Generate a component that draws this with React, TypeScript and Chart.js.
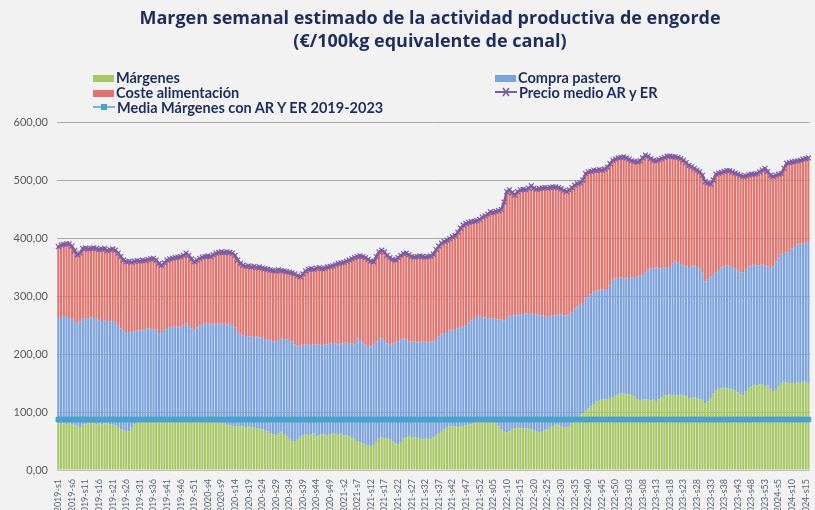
import React, { useEffect, useRef } from "react";
import { Chart, registerables } from "chart.js";

Chart.register(...registerables);

// ---- categories (weekly labels) ----
const YEARS = [2019, 2020, 2021, 2022, 2023, 2024];
const WEEKS_IN_YEAR = [52, 52, 52, 52, 53, 16];
const ZERO_PADDED_YEARS = [2022, 2023];
const weekLabels: string[] = [];
YEARS.forEach((y, k) => {
  for (let w = 1; w <= WEEKS_IN_YEAR[k]; w++) {
    const s = ZERO_PADDED_YEARS.includes(y) && w < 10 ? "0" + w : String(w);
    weekLabels.push(`${y}-s${s}`);
  }
});

// ---- series values (€/100kg) ----
const precioMedio = [
  // 2019
  385, 388, 389, 390, 390, 386, 378, 371, 374, 382, 383, 381, 382, 383, 382, 380, 381, 382, 378, 380, 381, 379,
  374, 368, 362, 359, 360, 358, 360, 361, 360, 362, 361, 363, 364, 365, 362, 356, 353, 357, 362,
  364, 365, 366, 367, 368, 370, 374, 370, 364, 359, 362,
  // 2020
  365, 367, 368, 369, 368, 371, 374, 375, 376, 375, 376, 375, 374, 370, 362, 356,
  353, 351, 352, 350, 351, 349, 350, 348, 347, 346, 345, 344, 343, 345, 344, 343, 342, 341, 340, 338, 335,
  333, 338, 343, 346, 347, 346, 348, 349, 347, 348, 350, 351, 352, 354, 356,
  // 2021
  357, 358, 360, 362, 364, 366, 368, 369, 368, 366, 363, 360, 359, 368, 376, 379, 376, 370, 366, 363, 362,
  366, 370, 373, 374, 371, 368, 367, 368, 369, 368, 367, 368, 369, 372, 380, 386, 391,
  394, 396, 399, 402, 404, 410, 417, 422, 425, 427, 428, 429, 430, 432,
  // 2022
  436, 438, 441, 445, 444, 446, 447, 449, 462, 480, 483, 478, 474, 480, 483, 484, 483, 486, 490, 486, 484,
  485, 486, 487, 486, 487, 488, 488, 487, 485, 482, 480, 483, 487, 491, 494, 495, 500,
  511, 514, 515, 517, 516, 518, 517, 519, 522, 528, 534, 536, 538, 539,
  // 2023
  540, 538, 536, 533, 532, 531, 533, 538, 543, 541, 537, 534, 533, 535, 537, 539,
  541, 541, 540, 540, 539, 537, 534, 530, 525, 523, 520, 517, 514, 508, 497, 495, 493, 500,
  510, 512, 513, 515, 516, 516, 514, 512, 510, 508, 506, 507, 509, 510, 510, 511, 514, 517, 520,
  // 2024
  515, 508, 506, 508, 510, 511, 520, 529, 530, 531, 532, 533, 534, 536, 537, 538,
];

const margenes = [
  // 2019
  80, 81, 80, 79, 80, 79, 77, 75, 74, 78, 79, 80, 81, 80, 79, 80, 79, 80, 80, 79, 78, 77,
  73, 70, 68, 66, 67, 74, 79, 82, 83, 84, 84, 85, 84,
  84, 83, 82, 83, 84, 85, 85, 86, 86, 85, 86, 86, 85, 84, 83, 84, 85,
  // 2020
  85, 84, 85, 84, 83, 82, 82, 81, 81, 80, 78, 77, 76, 75, 76, 75, 75, 74, 75, 74,
  73, 72, 71, 70, 69, 67, 64, 61, 60, 63, 66, 62, 58, 54, 49, 50, 52,
  56, 60, 62, 59, 61, 63, 58, 60, 62, 61, 59, 62, 63, 61, 62,
  // 2021
  63, 60, 60, 58, 57, 55, 50, 48, 46, 45, 42, 40, 43, 50, 55, 56, 54, 55, 53, 49, 46, 45, 48,
  55, 57, 58, 57, 56, 57, 54, 53, 55, 54, 53, 56, 60, 63, 66, 70,
  73, 75, 76, 75, 74, 75, 76, 77, 78, 79, 80, 82, 83,
  // 2022
  84, 84, 83, 82, 83, 80, 75, 70, 66, 65, 67, 70, 72, 73, 72, 71, 72, 71, 70, 68,
  66, 65, 66, 68, 70, 73, 76, 78, 77, 76, 74, 73, 75, 80, 85, 90, 95, 98,
  102, 106, 110, 114, 118, 120, 121, 122, 121, 123, 126, 128, 130, 132,
  // 2023
  132, 131, 130, 129, 127, 122, 120, 121, 122, 121, 120, 121, 119, 122,
  126, 128, 129, 130, 129, 128, 129, 130, 129, 127, 124, 123, 125, 124, 122, 120, 115, 118, 124, 132,
  138, 140, 141, 142, 141, 140, 139, 137, 134, 130, 129, 135, 142, 145, 147, 146, 148, 147, 145,
  // 2024
  146, 140, 135, 138, 144, 150, 152, 151, 150, 149, 150, 151, 150, 152, 151, 150,
];

const compraPastero = [
  // 2019
  182, 183, 185, 185, 182, 181, 180, 178, 182, 183, 183, 182, 182, 182, 182, 178, 178, 178, 177, 177,
  179, 178, 177, 174, 172, 172, 171, 164, 160, 158, 158, 158, 159, 159, 161, 159, 159, 154, 155, 158,
  160, 161, 160, 161, 161, 161, 163, 168, 166, 161, 157, 161,
  // 2020
  165, 167, 167, 168, 168, 170, 171, 171, 170, 172, 173, 175, 174, 171, 162, 159, 157, 157, 155, 156,
  156, 158, 158, 158, 157, 158, 159, 161, 161, 161, 161, 164, 167, 170, 173, 167, 161, 159, 156, 155,
  157, 154, 153, 159, 156, 153, 155, 158, 156, 156, 157, 155,
  // 2021
  155, 159, 160, 161, 161, 162, 177, 176, 174, 171, 172, 173, 173, 172, 171, 171, 170, 163, 163, 169,
  174, 177, 177, 172, 168, 164, 164, 165, 163, 167, 169, 166, 166, 168, 166, 166, 167, 168, 166, 165,
  165, 166, 168, 170, 171, 172, 173, 176, 179, 182, 182, 182,
  // 2022
  180, 179, 179, 179, 178, 180, 184, 189, 192, 197, 198, 196, 195, 195, 197, 198, 198, 198, 200, 201,
  202, 202, 200, 197, 194, 192, 190, 189, 191, 192, 193, 193, 193, 192, 193, 192, 190, 190, 195, 194,
  193, 192, 191, 190, 190, 188, 191, 195, 202, 202, 201, 200,
  // 2023
  199, 199, 201, 203, 204, 211, 215, 217, 218, 225, 228, 226, 230, 226, 221, 221, 219, 220, 227, 231,
  229, 225, 223, 224, 226, 228, 227, 226, 226, 220, 210, 210, 209, 206, 202, 205, 208, 209, 211, 211,
  211, 211, 210, 210, 212, 211, 209, 208, 207, 206, 205, 207, 207,
  // 2024
  205, 210, 216, 222, 222, 222, 222, 224, 226, 233, 236, 238, 240, 239, 241, 243,
];

// Coste alimentación = precio - márgenes - compra pastero
const costeAlimentacion = precioMedio.map((p, i) => p - margenes[i] - compraPastero[i]);

const MEDIA_MARGENES_2019_2023 = 87;
const mediaMargenes = weekLabels.map(() => MEDIA_MARGENES_2019_2023);

const Y_TICKS = [0, 100, 200, 300, 400, 500, 600];

const TITLE_LINES = [
  "Margen semanal estimado de la actividad productiva de engorde",
  "(€/100kg equivalente de canal)",
];

const COLORS = {
  margen: "#a6c763",
  compra: "#7aa2de",
  coste: "#e0736d",
  precio: "#7c5ca6",
  media: "#4aa3cc",
  text: "#1f2d5c",
};

const FONT = "Lato, 'Open Sans', sans-serif";
const TITLE_FONT = "'Open Sans', Lato, sans-serif";

function LegendItem(props: { x: number; y: number; label: string; kind: string; color: string }) {
  const { x, y, label, kind, color } = props;
  let marker: React.ReactNode;
  if (kind === "box") {
    marker = <div style={{ width: 21, height: 7, background: color, marginTop: 3 }} />;
  } else if (kind === "cross") {
    marker = (
      <svg width={22} height={10}>
        <line x1={0} y1={5} x2={22} y2={5} stroke={color} strokeWidth={2} />
        <line x1={8} y1={1} x2={14} y2={9} stroke={color} strokeWidth={1.5} />
        <line x1={14} y1={1} x2={8} y2={9} stroke={color} strokeWidth={1.5} />
      </svg>
    );
  } else {
    marker = (
      <svg width={22} height={10}>
        <line x1={0} y1={5} x2={22} y2={5} stroke={color} strokeWidth={1.5} />
        <rect x={8} y={2} width={6} height={6} fill={color} />
      </svg>
    );
  }
  return (
    <div
      style={{
        position: "absolute",
        left: x,
        top: y - 9,
        height: 18,
        display: "flex",
        alignItems: "center",
        gap: 2,
        whiteSpace: "nowrap",
      }}
    >
      {marker}
      <span style={{ fontFamily: FONT, fontWeight: 700, fontSize: 14.5, color: COLORS.text }}>{label}</span>
    </div>
  );
}

export default function App() {
  const canvasRef = useRef<HTMLCanvasElement | null>(null);

  useEffect(() => {
    if (!canvasRef.current) return;
    const chart = new Chart(canvasRef.current, {
      type: "bar",
      data: {
        labels: weekLabels,
        datasets: [
          {
            type: "line",
            label: "Precio medio AR y ER",
            data: precioMedio,
            borderColor: COLORS.precio,
            backgroundColor: COLORS.precio,
            borderWidth: 2.5,
            pointStyle: "crossRot",
            pointRadius: 3.5,
            pointBorderWidth: 1.2,
            pointBorderColor: COLORS.precio,
            stack: "precio",
            order: 0,
          } as any,
          {
            type: "line",
            label: "Media Márgenes con AR Y ER 2019-2023",
            data: mediaMargenes,
            borderColor: COLORS.media,
            backgroundColor: COLORS.media,
            borderWidth: 1.5,
            pointStyle: "rect",
            pointRadius: 3.5,
            pointBorderWidth: 0.5,
            pointBorderColor: COLORS.media,
            stack: "media",
            order: 1,
          } as any,
          {
            label: "Márgenes",
            data: margenes,
            backgroundColor: COLORS.margen,
            stack: "barras",
            order: 2,
          },
          {
            label: "Compra pastero",
            data: compraPastero,
            backgroundColor: COLORS.compra,
            stack: "barras",
            order: 2,
          },
          {
            label: "Coste alimentación",
            data: costeAlimentacion,
            backgroundColor: COLORS.coste,
            stack: "barras",
            order: 2,
          },
        ],
      },
      options: {
        animation: false,
        responsive: false,
        devicePixelRatio: 1,
        datasets: { bar: { barPercentage: 0.78, categoryPercentage: 1 } },
        layout: { padding: { top: 122, left: 0, right: 0, bottom: 0 } },
        plugins: {
          legend: { display: false },
          title: { display: false },
          tooltip: { enabled: false },
        },
        scales: {
          x: {
            stacked: true,
            grid: { display: false },
            border: { display: true, color: "#bfbfbf" },
            ticks: {
              autoSkip: false,
              maxRotation: 90,
              minRotation: 90,
              padding: 1,
              color: "#5a6478",
              font: { family: FONT, size: 9 },
              callback: function (this: any, val: any, index: number) {
                return index % 5 === 0 ? this.getLabelForValue(val) : "";
              },
            },
            afterFit: (scale: any) => {
              scale.height = 70;
              scale.paddingLeft = 0;
              scale.paddingRight = 0;
            },
          },
          y: {
            stacked: true,
            min: 0,
            max: 600,
            afterBuildTicks: (scale: any) => {
              scale.ticks = Y_TICKS.map((v) => ({ value: v }));
            },
            grid: { color: "#a9a9a9", lineWidth: 1, drawTicks: false },
            border: { display: false },
            ticks: {
              padding: 9,
              color: "#595959",
              font: { family: FONT, size: 11 },
              callback: (v: any) => Number(v).toFixed(2).replace(".", ","),
            },
            afterFit: (scale: any) => {
              scale.width = 57;
            },
          },
        },
      },
    });
    return () => chart.destroy();
  }, []);

  return (
    <div
      style={{
        position: "absolute",
        left: 0,
        top: 0,
        width: 815,
        height: 510,
        overflow: "hidden",
        background: "#f2f2f2",
      }}
    >
      <canvas ref={canvasRef} width={815} height={540} style={{ position: "absolute", left: 0, top: 0 }} />
      <div
        style={{
          position: "absolute",
          left: 0,
          width: 860,
          top: 6,
          textAlign: "center",
          fontFamily: TITLE_FONT,
          fontWeight: 700,
          fontSize: 18,
          lineHeight: "23px",
          color: COLORS.text,
        }}
      >
        <div>{TITLE_LINES[0]}</div>
        <div>{TITLE_LINES[1]}</div>
      </div>
      <LegendItem x={93} y={77} label="Márgenes" kind="box" color={COLORS.margen} />
      <LegendItem x={495} y={77} label="Compra pastero" kind="box" color={COLORS.compra} />
      <LegendItem x={93} y={92} label="Coste alimentación" kind="box" color={COLORS.coste} />
      <LegendItem x={495} y={92} label="Precio medio AR y ER" kind="cross" color={COLORS.precio} />
      <LegendItem x={93} y={107} label="Media Márgenes con AR Y ER 2019-2023" kind="line" color={COLORS.media} />
    </div>
  );
}
